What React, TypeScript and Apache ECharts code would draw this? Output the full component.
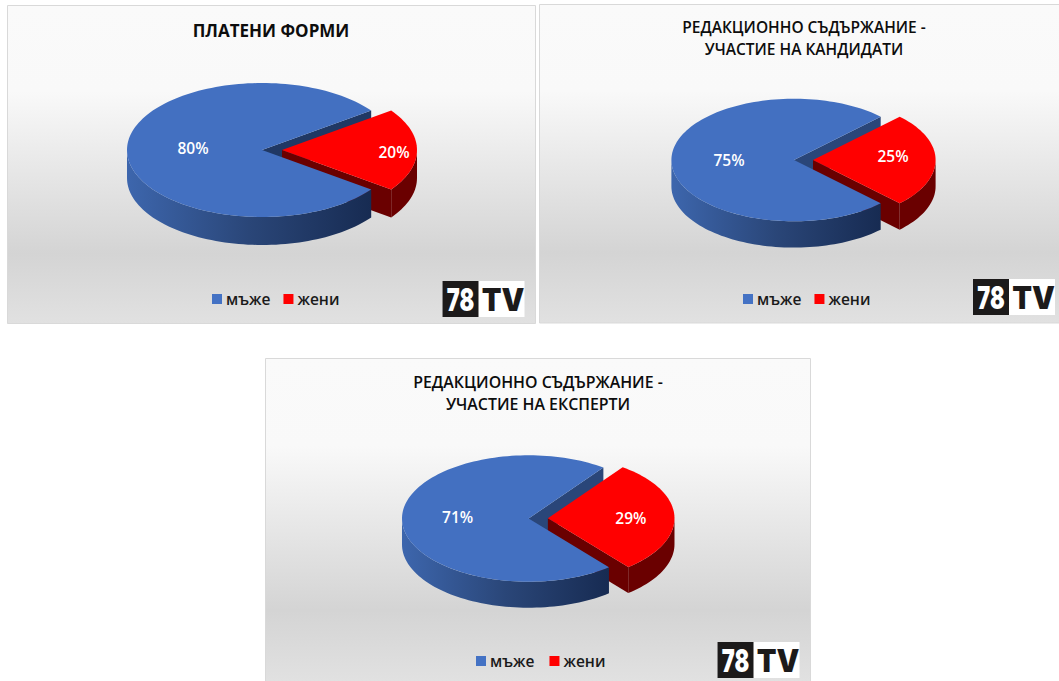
import React, { useEffect, useRef } from "react";
import * as echarts from "echarts";

const categories = ["мъже", "жени"];
const paidForms = [80, 20];
const candidates = [75, 25];
const experts = [71, 29];
const percentSuffix = "%";

const titleLines = [
  ["ПЛАТЕНИ ФОРМИ"],
  ["РЕДАКЦИОННО СЪДЪРЖАНИЕ -", "УЧАСТИЕ НА КАНДИДАТИ"],
  ["РЕДАКЦИОННО СЪДЪРЖАНИЕ -", "УЧАСТИЕ НА ЕКСПЕРТИ"],
];
const panelValues = [paidForms, candidates, experts];

const FONT = '"Open Sans", "Noto Sans", sans-serif';
const BLUE = "#4370c1";
const RED = "#ff0000";

const layouts = [
  {
    box: [7.5, 5.5, 528, 318], cx: 262, cy: 150, rx: 135, ry: 67, depth: 28, explode: 20, rot: 0,
    labels: [[-69, -2], [112, 2]], title: { x: 271, y: 19.5, size: 17, weight: 700, lh: 21 },
    legend: { x: 212, y: 291, gap: 13 }, logo: [442.5, 281], faceColor: "#203864",
  },
  {
    box: [539.5, 4.5, 530, 318.5], cx: 794, cy: 160, rx: 122.6, ry: 61.3, depth: 26.3, explode: 19, rot: 0,
    labels: [[-65, 0], [80, -4]], title: { x: 804, y: 16.5, size: 15.5, weight: 600, lh: 21.4 },
    legend: { x: 743, y: 291, gap: 13 }, logo: [973, 279], faceColor: "#2a4679",
  },
  {
    box: [265.5, 358.5, 545, 323], cx: 528.6, cy: 518.5, rx: 126.6, ry: 63.2, depth: 26, explode: 19.3, rot: -1.6,
    labels: [[-71, -2], [83, 0]], title: { x: 538, y: 371.5, size: 15.9, weight: 600, lh: 21.7 },
    legend: { x: 476, y: 653, gap: 15 }, logo: [717.5, 642], faceColor: "#2a4679",
  },
];

const rad = (d: number) => (d * Math.PI) / 180;

function arcPoints(cx: number, cy: number, rx: number, ry: number, from: number, to: number) {
  const pts: number[][] = [];
  const n = Math.max(2, Math.ceil(Math.abs(to - from) / 2));
  for (let i = 0; i <= n; i++) {
    const a = rad(from + ((to - from) * i) / n);
    pts.push([cx + rx * Math.cos(a), cy + ry * Math.sin(a)]);
  }
  return pts;
}

function sliceRender(panel: number, sliceIndex: number) {
  return (_params: any, api: any) => {
    const L = layouts[panel];
    const values = panelValues[panel];
    const value = api.value(0);
    const secondSpan = values[1] * 3.6;
    const first = L.rot + secondSpan / 2;
    const start = sliceIndex === 0 ? first : L.rot - secondSpan / 2;
    const end = start + value * 3.6;
    const mid = (start + end) / 2;
    const ex = sliceIndex === 1 ? L.explode * Math.cos(rad(mid)) : 0;
    const ey = sliceIndex === 1 ? L.explode * Math.sin(rad(mid)) * (L.ry / L.rx) : 0;
    const ax = L.cx + ex;
    const ay = L.cy + ey;

    const topPts = [[ax, ay], ...arcPoints(ax, ay, L.rx, L.ry, start, end)];
    const wallFrom = Math.max(start, 0);
    const wallTo = Math.min(end, 180);
    const upper = arcPoints(ax, ay, L.rx, L.ry, wallFrom, wallTo);
    const lower = upper.map((p) => [p[0], p[1] + L.depth]).reverse();
    const tip = arcPoints(ax, ay, L.rx, L.ry, end, end)[0];
    const facePts = [[ax, ay], tip, [tip[0], tip[1] + L.depth], [ax, ay + L.depth]];

    const wallFill =
      sliceIndex === 0
        ? {
            type: "linear", x: 0, y: 0, x2: 1, y2: 0,
            colorStops: [
              { offset: 0, color: "#3d66ad" },
              { offset: 0.5, color: "#2a4678" },
              { offset: 1, color: "#172b52" },
            ],
          }
        : "#6a0000";
    const faceFill = sliceIndex === 0 ? L.faceColor : "#6a0000";
    const topFill = sliceIndex === 0 ? BLUE : RED;
    const z = sliceIndex === 0 ? { face: 1, wall: 5, top: 6 } : { face: 2, wall: 3, top: 4 };
    const off = L.labels[sliceIndex];

    return {
      type: "group",
      children: [
        { type: "polygon", z2: z.face, shape: { points: facePts }, style: { fill: faceFill } },
        { type: "polygon", z2: z.wall, shape: { points: [...upper, ...lower] }, style: { fill: wallFill } },
        { type: "polygon", z2: z.top, shape: { points: topPts }, style: { fill: topFill } },
        {
          type: "text",
          z2: 10,
          style: {
            text: `${value}${percentSuffix}`,
            x: ax + off[0],
            y: ay + off[1],
            fill: "#ffffff",
            fontFamily: FONT,
            fontSize: 15.5,
            fontWeight: 600,
            align: "center",
            verticalAlign: "middle",
          },
        },
      ],
    };
  };
}

function logo(pos: number[]) {
  const mark = (text: string, x: number, y: number, fill: string, scaleX: number) => ({
    type: "text",
    x,
    y,
    scaleX,
    style: {
      text,
      x: 0,
      y: 0,
      fill,
      fontFamily: "Inter, 'Liberation Sans', sans-serif",
      fontSize: 32,
      fontWeight: 900,
      align: "center",
      verticalAlign: "middle",
    },
  });
  return {
    type: "group",
    x: pos[0],
    y: pos[1],
    children: [
      { type: "rect", shape: { x: 0, y: 0, width: 82, height: 36 }, style: { fill: "#ffffff" } },
      { type: "rect", shape: { x: 0, y: 0, width: 36, height: 36 }, style: { fill: "#1c1a1a" } },
      mark("78", 18, 18.5, "#ffffff", 0.68),
      mark("TV", 60.5, 18.5, "#1c1a1a", 0.9),
    ],
  };
}

export default function App() {
  const ref = useRef<HTMLDivElement>(null);

  useEffect(() => {
    document.body.style.margin = "0";
    document.body.style.background = "#ffffff";
    const chart = echarts.init(ref.current as HTMLDivElement, undefined, { renderer: "svg" });

    const backgrounds = layouts.map((L) => ({
      type: "rect",
      z: 0,
      shape: { x: L.box[0], y: L.box[1], width: L.box[2], height: L.box[3] },
      style: {
        stroke: "#d9d9d9",
        lineWidth: 1,
        fill: {
          type: "linear", x: 0, y: 0, x2: 0, y2: 1,
          colorStops: [
            { offset: 0, color: "#fafafa" },
            { offset: 0.27, color: "#f9f9f9" },
            { offset: 0.78, color: "#d4d4d4" },
            { offset: 1, color: "#e1e1e1" },
          ],
        },
      },
    }));

    const series: any[] = [];
    layouts.forEach((_L, panel) => {
      categories.forEach((name, i) => {
        series.push({
          type: "custom",
          name,
          coordinateSystem: "none",
          silent: true,
          itemStyle: { color: i === 0 ? "#4472c4" : RED },
          data: [[panelValues[panel][i]]],
          renderItem: sliceRender(panel, i),
        });
      });
    });

    chart.setOption({
      animation: false,
      backgroundColor: "#ffffff",
      title: layouts.map((L, p) => ({
        text: titleLines[p].join("\n"),
        left: L.title.x,
        top: L.title.y,
        textAlign: "center",
        padding: 0,
        textStyle: {
          fontFamily: FONT,
          fontSize: L.title.size,
          fontWeight: L.title.weight,
          color: "#0d0d0d",
          lineHeight: L.title.lh,
        },
      })),
      legend: layouts.map((L) => ({
        left: L.legend.x,
        top: L.legend.y,
        padding: 0,
        icon: "rect",
        itemWidth: 10,
        itemHeight: 10,
        itemGap: L.legend.gap,
        selectedMode: false,
        data: categories,
        textStyle: { fontFamily: FONT, fontSize: 15.5, fontWeight: 600, color: "#1a1a1a", padding: [0, 0, 0, -1] },
      })),
      graphic: { elements: [...backgrounds, ...layouts.map((L) => logo(L.logo))] },
      series,
    });

    return () => chart.dispose();
  }, []);

  return <div ref={ref} style={{ width: 1059, height: 681 }} />;
}
